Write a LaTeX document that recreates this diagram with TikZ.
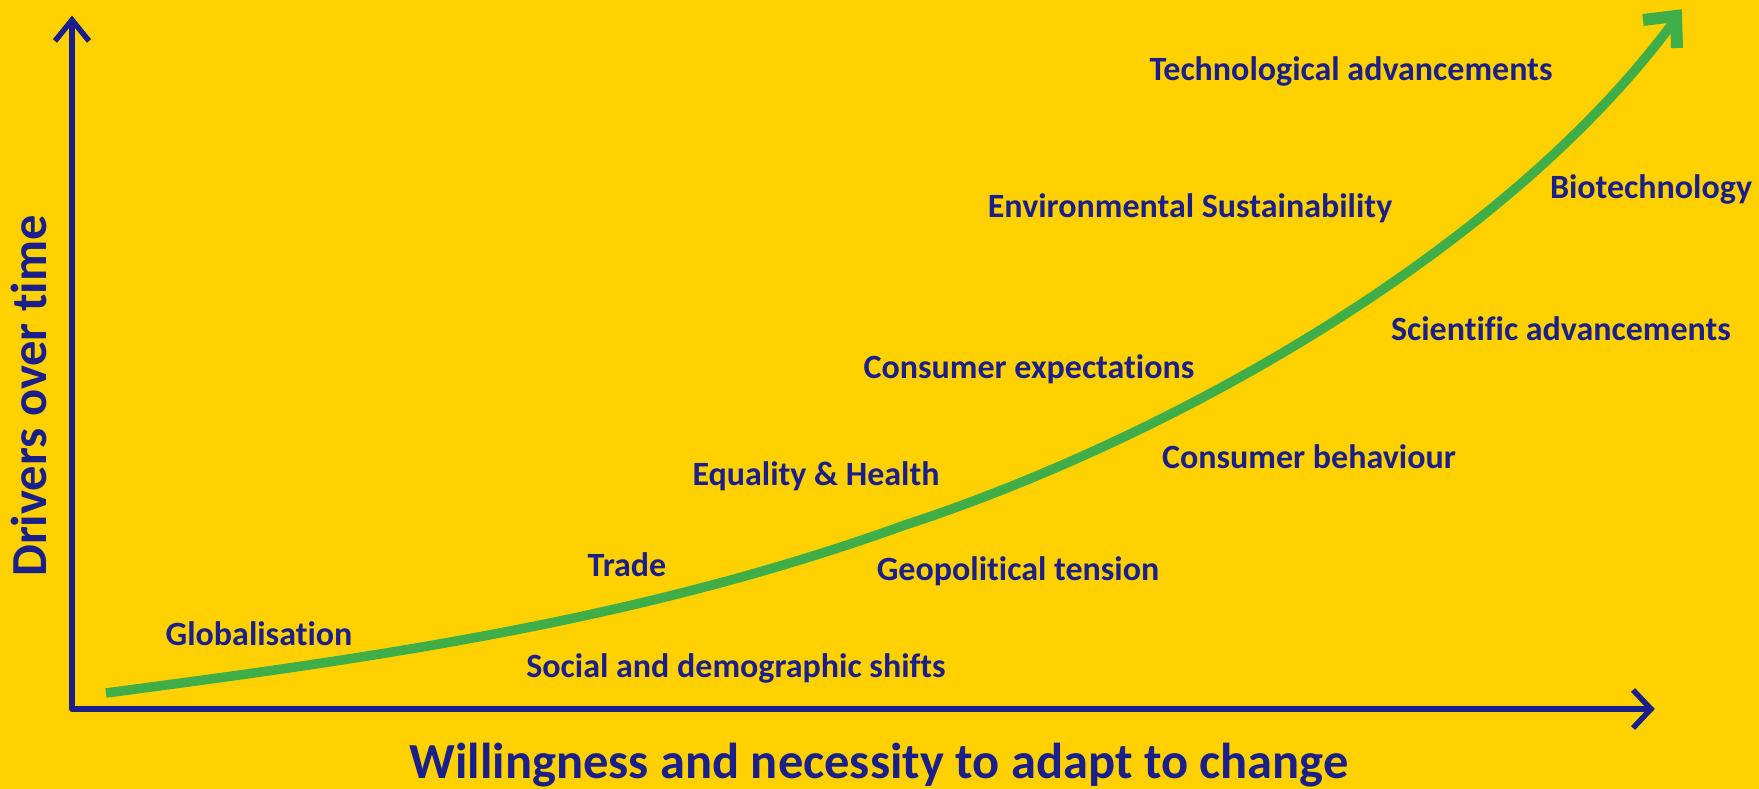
\documentclass[tikz,border=0pt]{standalone}
\usepackage{fontspec}
\setmainfont{Carlito}[Ligatures=NoCommon]
\definecolor{bgyellow}{RGB}{255,209,0}
\definecolor{navy}{RGB}{27,31,138}
\definecolor{curvegreen}{RGB}{63,174,73}
\begin{document}
\begin{tikzpicture}[x=1pt,y=-1pt,
  lbl/.style={anchor=base, text=navy, inner sep=0pt, font=\fontsize{34}{38}\selectfont\bfseries},
  axislabel/.style={anchor=base, text=navy, inner sep=0pt, font=\fontsize{50.5}{56}\selectfont\bfseries},
  axisline/.style={draw=navy, line width=5.5pt, line join=round, line cap=round},
  chevron/.style={draw=navy, line width=5.5pt, line join=miter, line cap=butt},
  trend/.style={draw=curvegreen, line width=9.5pt, line cap=butt, line join=round},
  trendhead/.style={draw=curvegreen, line width=12pt, line join=miter, line cap=butt}]
\useasboundingbox (0,0) rectangle (1759,789);
\fill[bgyellow] (0,0) rectangle (1759,789);

% axes
\coordinate (origin) at (72,709);
\coordinate (ytip) at (72,20);
\coordinate (xtip) at (1651,709);
\draw[axisline] (ytip) -- (origin) -- (xtip);
\draw[chevron] (ytip) ++(-17,21) -- (ytip) -- ++(17,21);
\draw[chevron] (xtip) ++(-18,-19) -- (xtip) -- ++(-18,19);

% trend curve
\coordinate (cstart) at (106,693);
\coordinate (cmid) at (905,525);
\coordinate (cend) at (1672,24);
\coordinate (headcorner) at (1676,16);
\draw[trend] (cstart) .. controls (372,658) and (639,621) .. (cmid)
                      .. controls (1165,440) and (1500,255) .. (cend);
\draw[trendhead] (headcorner) ++(-33,4) -- (headcorner) -- ++(1,32);

% labels
\node[lbl] (tech) at (1351,81) {Technological advancements};
\node[lbl] (bio) at (1651,198) {Biotechnology};
\node[lbl] (env) at (1190,217) {Environmental Sustainability};
\node[lbl] (sci) at (1561,340) {Scientific advancements};
\node[lbl] (cexp) at (1029,378) {Consumer expectations};
\node[lbl] (cbeh) at (1309,468) {Consumer behaviour};
\node[lbl] (eq) at (816,485) {Equality \& Health};
\node[lbl] (trade) at (627,576) {Trade};
\node[lbl] (geo) at (1018,580) {Geopolitical tension};
\node[lbl] (glob) at (259,645) {Globalisation};
\node[lbl] (soc) at (736,677) {Social and demographic shifts};

\node[axislabel] (xlabel) at (879,778) {Willingness and necessity to adapt to change};
\node[axislabel, rotate=90] (ylabel) at (46,396) {Drivers over time};
\end{tikzpicture}
\end{document}
